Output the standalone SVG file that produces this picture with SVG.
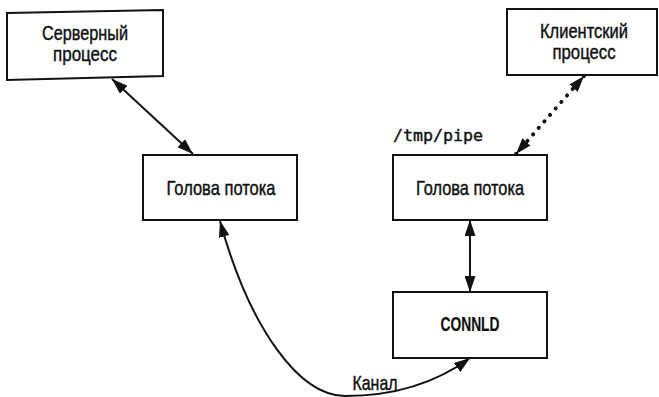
<svg xmlns="http://www.w3.org/2000/svg" width="659" height="397" viewBox="0 0 659 397">
<style>
.box{fill:#fff;stroke:#111;stroke-width:2}
.t{font-family:"Liberation Sans",Arial,sans-serif;font-size:21px;fill:#111;stroke:#111;stroke-width:0.45;text-anchor:middle}
.m{font-family:"DejaVu Sans Mono","Liberation Mono",monospace;font-size:16px;fill:#111;stroke:#111;stroke-width:0.4}
.c{stroke:#111;stroke-width:2;fill:none}
.dot{stroke:#111;stroke-width:4;stroke-dasharray:0.1,8.5;stroke-linecap:round;fill:none}
</style>
<defs>
<marker id="ah" viewBox="0 0 16 11" refX="16" refY="5.5" markerWidth="16" markerHeight="11" markerUnits="userSpaceOnUse" orient="auto-start-reverse">
<path d="M0,0 L16,5.5 L0,11 Z" fill="#111" stroke="none"/>
</marker>
</defs>
<rect width="659" height="397" fill="#fff"/>
<g id="server">
<polygon class="box" points="7,13 163,10 163,76 7,80"/>
<text class="t" x="85" y="40" textLength="86" lengthAdjust="spacingAndGlyphs">Серверный</text>
<text class="t" x="85" y="61" textLength="64" lengthAdjust="spacingAndGlyphs">процесс</text>
</g>
<g id="client">
<rect class="box" x="507" y="9" width="150" height="66"/>
<text class="t" x="584" y="38" textLength="88" lengthAdjust="spacingAndGlyphs">Клиентский</text>
<text class="t" x="584" y="59" textLength="63" lengthAdjust="spacingAndGlyphs">процесс</text>
</g>
<g id="head-left">
<rect class="box" x="143" y="155" width="154" height="65"/>
<text class="t" x="221" y="195" textLength="109" lengthAdjust="spacingAndGlyphs">Голова потока</text>
</g>
<g id="head-right">
<text class="m" x="393" y="141" textLength="90" lengthAdjust="spacingAndGlyphs">/tmp/pipe</text>
<rect class="box" x="393" y="155" width="154" height="65"/>
<text class="t" x="470" y="195" textLength="108" lengthAdjust="spacingAndGlyphs">Голова потока</text>
</g>
<g id="connld">
<rect class="box" x="393" y="292" width="154" height="66"/>
<text class="t" x="470" y="331" font-weight="bold" font-size="18" style="stroke-width:0.2" textLength="59" lengthAdjust="spacingAndGlyphs">CONNLD</text>
</g>
<g id="connectors">
<line class="c" x1="112" y1="79" x2="193" y2="154" marker-start="url(#ah)" marker-end="url(#ah)"/>
<line class="dot" x1="584" y1="76" x2="516" y2="154" marker-start="url(#ah)" marker-end="url(#ah)"/>
<line class="c" x1="470" y1="220" x2="470" y2="292" marker-start="url(#ah)" marker-end="url(#ah)"/>
<path class="c" d="M220,221 C250,330 300,396 345,396 C400,396 440,380 470,358" marker-start="url(#ah)" marker-end="url(#ah)"/>
<text class="t" x="375" y="390" textLength="45" lengthAdjust="spacingAndGlyphs">Канал</text>
</g>
</svg>
